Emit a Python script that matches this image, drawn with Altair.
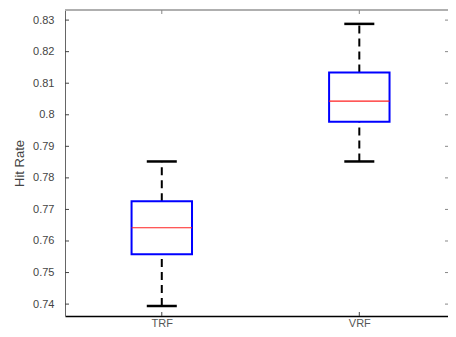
import altair as alt
import pandas as pd

# Data
groups = ["TRF", "VRF"]
positions = [1, 2]
lower_whisker = [0.7394, 0.7852]
q1 = [0.7558, 0.7978]
median = [0.7642, 0.8043]
q3 = [0.7726, 0.8134]
upper_whisker = [0.7852, 0.8288]

y_ticks = [0.74, 0.75, 0.76, 0.77, 0.78, 0.79, 0.80, 0.81, 0.82, 0.83]
y_domain = [0.73623, 0.8332]
x_domain = [0.51, 2.449]

W, H = 383, 306
BOX_HALF = 0.153
CAP_HALF = 0.076

df = pd.DataFrame({
    "group": groups, "pos": positions, "lo": lower_whisker, "q1": q1,
    "med": median, "q3": q3, "hi": upper_whisker,
})
ticks_df = pd.DataFrame({"v": y_ticks})
xt_df = pd.DataFrame({"pos": positions})

label_expr = " : ".join(
    [f"datum.value == {p} ? '{g}'" for p, g in zip(positions[:-1], groups[:-1])]
    + [f"'{groups[-1]}'"]
)

x_scale = alt.Scale(domain=x_domain, nice=False, zero=False)
y_scale = alt.Scale(domain=y_domain, nice=False, zero=False)

xaxis = alt.Axis(
    values=positions, labelExpr=label_expr, title=None, ticks=False, tickSize=0,
    labelPadding=1, grid=False, domainColor="#000000", domainWidth=1.5,
    labelColor="#555555", labelFontSize=11, labelFont="Liberation Sans",
    labelFlush=False, labelOverlap=False)

yaxis = alt.Axis(values=y_ticks, labelExpr="format(datum.value, '.2~f')",
                 title="Hit Rate", ticks=False, tickSize=0, labelPadding=11,
                 grid=False, domainColor="#666666", domainWidth=1,
                 labelColor="#444444", labelFontSize=11, labelFont="Liberation Sans",
                 titleFont="Liberation Sans", titleFontSize=13, titleFontWeight="normal",
                 titleColor="#444444", titlePadding=6, labelFlush=False,
                 labelOverlap=False)


def XQ(field):
    return alt.X(field, type="quantitative", scale=x_scale, axis=xaxis)


def YQ(field):
    return alt.Y(field, type="quantitative", scale=y_scale, axis=yaxis)


base = alt.Chart(df).transform_calculate(
    bx0=f"datum.pos - {BOX_HALF}", bx1=f"datum.pos + {BOX_HALF}",
    cx0=f"datum.pos - {CAP_HALF}", cx1=f"datum.pos + {CAP_HALF}",
)

box = base.mark_rect(filled=False, stroke="#0000ff", strokeWidth=2).encode(
    x=XQ("bx0"), x2="bx1:Q", y=YQ("q1"), y2="q3:Q")

med = base.mark_rule(color="#ff2020", strokeWidth=1.2).encode(
    x=XQ("bx0"), x2="bx1:Q", y=YQ("med"))

dash = [8, 5]
w_up = base.mark_rule(color="#000000", strokeWidth=2, strokeDash=dash).encode(
    x=XQ("pos"), y=YQ("q3"), y2="hi:Q")
w_lo = base.mark_rule(color="#000000", strokeWidth=2, strokeDash=dash).encode(
    x=XQ("pos"), y=YQ("lo"), y2="q1:Q")

cap_up = base.mark_rule(color="#000000", strokeWidth=2.5).encode(
    x=XQ("cx0"), x2="cx1:Q", y=YQ("hi"))
cap_lo = base.mark_rule(color="#000000", strokeWidth=2.5).encode(
    x=XQ("cx0"), x2="cx1:Q", y=YQ("lo"))

# inward tick marks (MATLAB style)
yt_left = alt.Chart(ticks_df).mark_rule(color="#444444", strokeWidth=1).encode(
    y=YQ("v"), x=alt.value(0), x2=alt.value(4))
yt_right = alt.Chart(ticks_df).mark_rule(color="#888888", strokeWidth=1).encode(
    y=YQ("v"), x=alt.value(W - 3), x2=alt.value(W))
xt_bot = alt.Chart(xt_df).mark_rule(color="#444444", strokeWidth=1).encode(
    x=XQ("pos"), y=alt.value(H), y2=alt.value(H - 4))
xt_top = alt.Chart(xt_df).mark_rule(color="#888888", strokeWidth=1).encode(
    x=XQ("pos"), y=alt.value(0), y2=alt.value(4))

top_border = alt.Chart(xt_df).mark_rule(color="#aaaaaa", strokeWidth=1.5).encode(
    x=alt.value(0), x2=alt.value(W), y=alt.value(0))

chart = alt.layer(
    top_border, yt_left, yt_right, xt_bot, xt_top,
    w_up, w_lo, cap_up, cap_lo, box, med
).properties(
    width=W, height=H,
    autosize=alt.AutoSizeParams(type="none"),
    padding={"left": 57, "top": 2, "right": 0, "bottom": 13},
    background="white",
).configure_view(stroke=None)

chart.save("out.html", embed_options={"renderer": "svg", "actions": False})
